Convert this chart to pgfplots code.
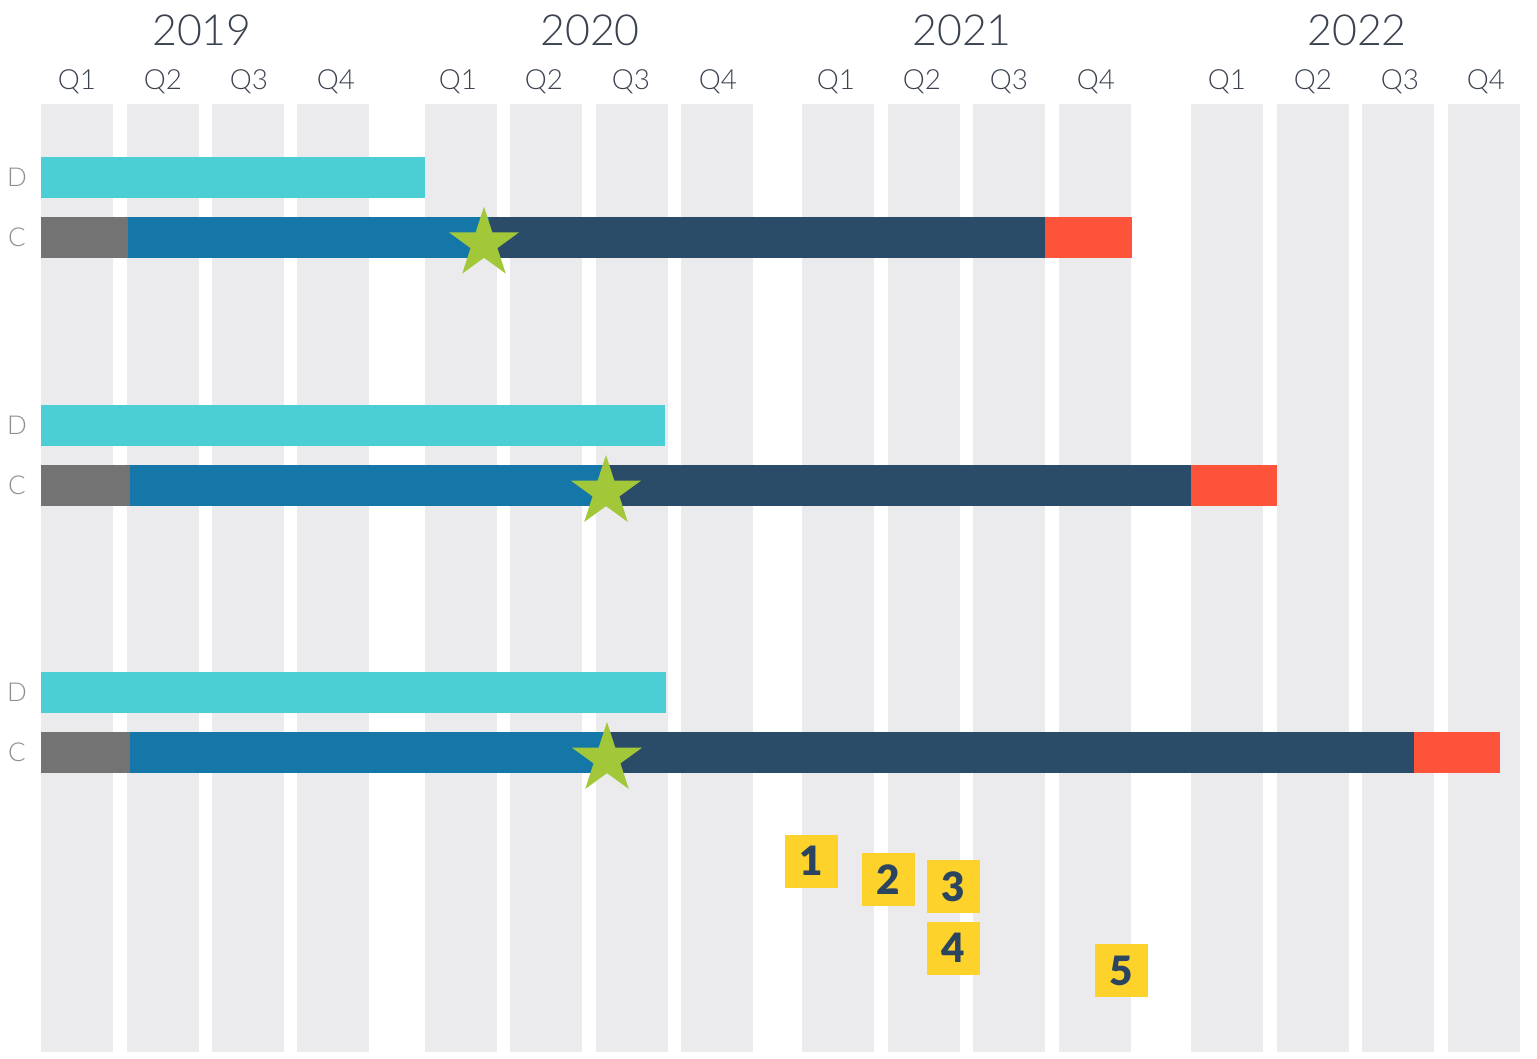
\documentclass[border=0pt]{standalone}
\usepackage{pgfplots}
\pgfplotsset{compat=1.18}
\usepackage{fontspec}
\setmainfont{Lato}
\IfFontExistsTF{Lato Light}{\newfontfamily\lightfont{Lato Light}}{\newfontfamily\lightfont{Lato}}
\IfFontExistsTF{Lato Black}{\newfontfamily\heavyfont{Lato Black}}{\newfontfamily\heavyfont{Lato}[UprightFont=*-Bold]}
\definecolor{colbg}{HTML}{EBEBED}
\definecolor{cyanbar}{HTML}{4BCFD5}
\definecolor{graybar}{HTML}{737373}
\definecolor{bluebar}{HTML}{1577A8}
\definecolor{darkbar}{HTML}{2A4C69}
\definecolor{redbar}{HTML}{FC533A}
\definecolor{stargreen}{HTML}{A2C83A}
\definecolor{yel}{HTML}{FDD22B}
\definecolor{navy}{HTML}{2B4560}
\definecolor{txt}{HTML}{3B4350}
\definecolor{lbl}{HTML}{8F8F8F}
\pgfdeclareplotmark{fstar}{%
 \pgfpathmoveto{\pgfpointpolar{90}{\pgfplotmarksize}}%
 \pgfpathlineto{\pgfpointpolar{126}{0.382*\pgfplotmarksize}}%
 \pgfpathlineto{\pgfpointpolar{162}{\pgfplotmarksize}}%
 \pgfpathlineto{\pgfpointpolar{198}{0.382*\pgfplotmarksize}}%
 \pgfpathlineto{\pgfpointpolar{234}{\pgfplotmarksize}}%
 \pgfpathlineto{\pgfpointpolar{270}{0.382*\pgfplotmarksize}}%
 \pgfpathlineto{\pgfpointpolar{306}{\pgfplotmarksize}}%
 \pgfpathlineto{\pgfpointpolar{342}{0.382*\pgfplotmarksize}}%
 \pgfpathlineto{\pgfpointpolar{18}{\pgfplotmarksize}}%
 \pgfpathlineto{\pgfpointpolar{54}{0.382*\pgfplotmarksize}}%
 \pgfpathclose
 \pgfusepathqfill
}
\tikzset{
  numlbl/.style={font=\heavyfont\fontsize{11.5}{13}\selectfont,text=navy,inner sep=0pt,anchor=center},
  yearlbl/.style={font=\lightfont\fontsize{12.2}{14}\selectfont,text=txt,inner sep=0pt,anchor=base},
  qlbl/.style={font=\lightfont\fontsize{7.9}{9}\selectfont,text=txt,inner sep=0pt,anchor=base},
  rowlbl/.style={font=\lightfont\fontsize{7.4}{8}\selectfont,text=lbl,inner sep=0pt,anchor=center},
}
% #1 colour, #2 x start, #3 x end, #4 y top, #5 y bottom
\newcommand{\rect}[5]{\addplot[fill=#1,draw=none,forget plot] coordinates {(#2,#4) (#3,#4) (#3,#5) (#2,#5)} -- cycle;}
\newcommand{\col}[1]{\rect{colbg}{#1}{#1+71.5}{104}{1052}}
% numbered square: centre x, centre y (side 53)
\newcommand{\sq}[2]{\rect{yel}{#1-26.5}{#1+26.5}{#2-26.5}{#2+26.5}}
\begin{document}
\begin{tikzpicture}
\begin{axis}[width=153.7mm,height=105.9mm,scale only axis,
  xmin=0,xmax=1537,ymin=0,ymax=1059,y dir=reverse,hide axis,clip=false]
\rect{white}{0}{1537}{0}{1059}
% quarter columns
\col{41}\col{127}\col{212}\col{297}
\col{425}\col{510}\col{596}\col{681}
\col{802}\col{888}\col{973}\col{1059}
\col{1191}\col{1277}\col{1362}\col{1448}
% group 1
\rect{cyanbar}{41}{425}{157}{198}
\rect{graybar}{41}{128}{216.5}{257.5}
\rect{bluebar}{128}{489}{216.5}{257.5}
\rect{darkbar}{489}{1045}{216.5}{257.5}
\rect{redbar}{1045}{1132}{216.5}{257.5}
% group 2
\rect{cyanbar}{41}{665}{405}{446}
\rect{graybar}{41}{129.5}{464.5}{505.5}
\rect{bluebar}{129.5}{606}{464.5}{505.5}
\rect{darkbar}{606}{1191}{464.5}{505.5}
\rect{redbar}{1191}{1277}{464.5}{505.5}
% group 3
\rect{cyanbar}{41}{665.5}{672}{713}
\rect{graybar}{41}{129.5}{731.5}{772.5}
\rect{bluebar}{129.5}{608}{731.5}{772.5}
\rect{darkbar}{608}{1414}{731.5}{772.5}
\rect{redbar}{1414}{1500}{731.5}{772.5}
% milestones
\addplot[only marks,mark=fstar,mark size=3.7mm,color=stargreen,fill=stargreen] coordinates {(484,243.7) (606,492) (607,759)};
% numbered squares
\sq{811.5}{861}
\sq{888}{879.5}
\sq{953.5}{886.5}
\sq{953.5}{948}
\sq{1121.5}{970.5}
\node[numlbl] at (axis cs:811.5,861) {1};
\node[numlbl] at (axis cs:888,879.5) {2};
\node[numlbl] at (axis cs:953.5,886.5) {3};
\node[numlbl] at (axis cs:953.5,948) {4};
\node[numlbl] at (axis cs:1121.5,970.5) {5};
% year labels
\node[yearlbl] at (axis cs:202,45) {2019};
\node[yearlbl] at (axis cs:590,45) {2020};
\node[yearlbl] at (axis cs:962,45) {2021};
\node[yearlbl] at (axis cs:1357,45) {2022};
% quarter labels
\node[qlbl] at (axis cs:77,89) {Q1};
\node[qlbl] at (axis cs:163,89) {Q2};
\node[qlbl] at (axis cs:249,89) {Q3};
\node[qlbl] at (axis cs:336,89) {Q4};
\node[qlbl] at (axis cs:458,89) {Q1};
\node[qlbl] at (axis cs:544,89) {Q2};
\node[qlbl] at (axis cs:631,89) {Q3};
\node[qlbl] at (axis cs:718,89) {Q4};
\node[qlbl] at (axis cs:836,89) {Q1};
\node[qlbl] at (axis cs:922,89) {Q2};
\node[qlbl] at (axis cs:1009,89) {Q3};
\node[qlbl] at (axis cs:1096,89) {Q4};
\node[qlbl] at (axis cs:1227,89) {Q1};
\node[qlbl] at (axis cs:1313,89) {Q2};
\node[qlbl] at (axis cs:1400,89) {Q3};
\node[qlbl] at (axis cs:1486,89) {Q4};
% row labels
\node[rowlbl] at (axis cs:17,177.5) {D};
\node[rowlbl] at (axis cs:17,237) {C};
\node[rowlbl] at (axis cs:17,425.5) {D};
\node[rowlbl] at (axis cs:17,485) {C};
\node[rowlbl] at (axis cs:17,692.5) {D};
\node[rowlbl] at (axis cs:17,752) {C};
\end{axis}
\end{tikzpicture}
\end{document}
